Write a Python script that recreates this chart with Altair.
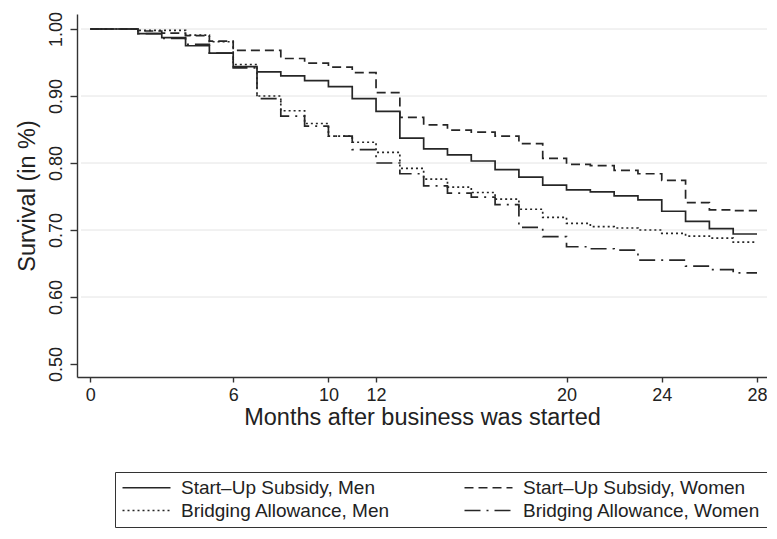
import altair as alt
import pandas as pd

months = list(range(29))
su_men = [1.000, 1.000, 0.993, 0.987, 0.975, 0.964, 0.944, 0.936, 0.930, 0.923,
          0.914, 0.896, 0.877, 0.837, 0.821, 0.812, 0.803, 0.790, 0.779, 0.767,
          0.760, 0.757, 0.751, 0.745, 0.728, 0.713, 0.702, 0.694, 0.694]
su_women = [1.000, 1.000, 0.997, 0.994, 0.990, 0.982, 0.968, 0.968, 0.956, 0.949,
            0.943, 0.935, 0.905, 0.868, 0.857, 0.849, 0.846, 0.840, 0.829, 0.807,
            0.798, 0.796, 0.789, 0.784, 0.774, 0.741, 0.730, 0.729, 0.729]
ba_men = [1.000, 1.000, 0.998, 0.998, 0.991, 0.981, 0.947, 0.900, 0.878, 0.859,
          0.840, 0.831, 0.816, 0.792, 0.776, 0.764, 0.756, 0.746, 0.731, 0.719,
          0.710, 0.705, 0.703, 0.700, 0.695, 0.691, 0.688, 0.682, 0.682]
ba_women = [1.000, 1.000, 0.993, 0.986, 0.977, 0.964, 0.942, 0.896, 0.870, 0.855,
            0.840, 0.820, 0.800, 0.784, 0.766, 0.755, 0.749, 0.738, 0.704, 0.690,
            0.675, 0.672, 0.670, 0.655, 0.655, 0.646, 0.641, 0.636, 0.636]

# legend is laid out column by column: left column men, right column women
series_names = ["Start–Up Subsidy, Men", "Bridging Allowance, Men",
                "Start–Up Subsidy, Women", "Bridging Allowance, Women"]
series_values = [su_men, ba_men, su_women, ba_women]
dash_styles = [[1, 0], [2, 3], [9, 5], [16, 6, 2, 6]]
x_ticks = [0, 6, 10, 12, 20, 24, 28]
y_ticks = [0.5, 0.6, 0.7, 0.8, 0.9, 1.0]
grid_values = [0.6, 0.7, 0.8, 0.9, 1.0]

rows = []
for name, vals in zip(series_names, series_values):
    for m, v in zip(months, vals):
        rows.append({"month": m, "surv": v, "series": name})
df = pd.DataFrame(rows)

FONT = "Liberation Sans"
INK = "#222222"

x_scale = alt.Scale(domain=[-0.56, 28.42], nice=False, zero=False)
y_scale = alt.Scale(domain=[0.4806, 1.0224], nice=False, zero=False)

y_axis = alt.Axis(values=y_ticks, format=".2f", title="Survival (in %)", grid=False,
                  labelAngle=270, labelAlign="center", labelBaseline="bottom",
                  labelFontSize=18, labelPadding=5, tickSize=7,
                  titleFontSize=23.5, titlePadding=8)
x_axis = alt.Axis(values=x_ticks, format="d", title="Months after business was started",
                  grid=False, labelFontSize=18, labelPadding=4, tickSize=5,
                  titleFontSize=23.5, titlePadding=1)

grid = alt.Chart(pd.DataFrame({"surv": grid_values})).mark_rule(
    color="#e4e4e4", strokeWidth=1
).encode(
    y=alt.Y("surv:Q", scale=y_scale, axis=y_axis),
    x=alt.value(4),
    x2=alt.value(690),
)

lines = alt.Chart(df).mark_line(
    interpolate="step-after", strokeWidth=1.7, color="#262626"
).encode(
    x=alt.X("month:Q", scale=x_scale, axis=x_axis),
    y=alt.Y("surv:Q", scale=y_scale, axis=y_axis),
    strokeDash=alt.StrokeDash(
        "series:N",
        scale=alt.Scale(domain=series_names, range=dash_styles),
        legend=alt.Legend(
            title=None, orient="none", legendX=38, legendY=458, columns=2,
            symbolType="M-3,0H3", symbolSize=256, symbolOffset=16,
            symbolStrokeWidth=1.4, symbolStrokeColor="#262626",
            labelFontSize=19, labelFont=FONT, labelColor=INK,
            labelOffset=25, columnPadding=70, rowPadding=3,
            padding=6, strokeColor="#333333", fillColor="white", labelLimit=400,
        ),
    ),
)

chart = alt.layer(grid, lines).properties(
    width=690, height=363,
    autosize=alt.AutoSizeParams(type="none"),
    padding={"left": 69, "top": 6, "right": 0, "bottom": 154},
).configure_view(stroke=None).configure_axis(
    labelFont=FONT, titleFont=FONT, labelColor=INK, titleColor=INK,
    domainColor="#333333", tickColor="#333333", domainWidth=1.4, tickWidth=1.4,
    titleFontWeight="normal",
)

chart.save("out.html", embed_options={"renderer": "svg", "actions": False})
